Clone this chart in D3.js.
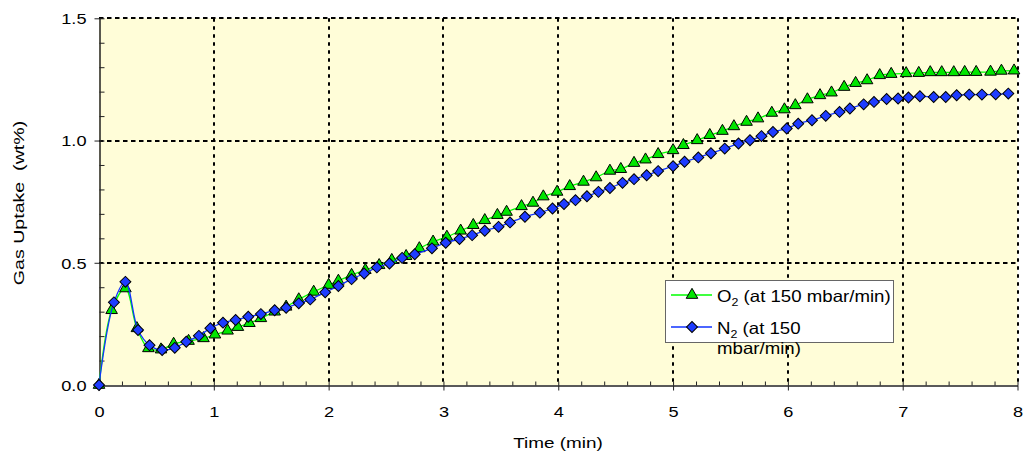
<!DOCTYPE html>
<html>
<head>
<meta charset="utf-8">
<script src="https://cdn.jsdelivr.net/npm/d3@7"></script>
<style>
body { margin: 0; background: #fff; }
text { font-family: "Liberation Sans", Arial, sans-serif; fill: #000; }
</style>
</head>
<body>
<script>
//O2 series (green triangles), time in min and uptake in wt%
var o2Time = [0, 0.11, 0.23, 0.33, 0.43, 0.54, 0.65, 0.78, 0.91, 1.01, 1.12, 1.21, 1.31, 1.41, 1.53, 1.63, 1.74, 1.87, 2.00, 2.085,
    2.20, 2.32, 2.44, 2.55, 2.675, 2.79, 2.91, 3.03, 3.15, 3.26, 3.36, 3.47, 3.55, 3.68, 3.78, 3.87, 3.99, 4.10, 4.22, 4.33,
    4.45, 4.545, 4.66, 4.76, 4.87, 5.00, 5.09, 5.21, 5.32, 5.43, 5.53, 5.64, 5.74, 5.86, 5.97, 6.065, 6.17, 6.28, 6.38, 6.49,
    6.59, 6.69, 6.80, 6.90, 7.03, 7.14, 7.24, 7.34, 7.445, 7.54, 7.64, 7.765, 7.86, 7.97];
var o2Uptake = [0, 0.306, 0.395, 0.232, 0.15, 0.145, 0.168, 0.18, 0.191, 0.206, 0.222, 0.237, 0.253, 0.273, 0.30, 0.32, 0.35, 0.381, 0.409, 0.426,
    0.45, 0.47, 0.49, 0.511, 0.527, 0.559, 0.586, 0.606, 0.631, 0.654, 0.674, 0.695, 0.708, 0.731, 0.745, 0.771, 0.79, 0.813, 0.831, 0.849,
    0.876, 0.883, 0.908, 0.922, 0.944, 0.96, 0.981, 1.001, 1.022, 1.039, 1.058, 1.076, 1.09, 1.113, 1.127, 1.144, 1.168, 1.185, 1.196, 1.219,
    1.235, 1.246, 1.267, 1.272, 1.275, 1.276, 1.279, 1.279, 1.279, 1.28, 1.28, 1.281, 1.285, 1.286];

//N2 series (blue diamonds)
var n2Time = [0, 0.13, 0.23, 0.34, 0.44, 0.55, 0.66, 0.76, 0.87, 0.97, 1.08, 1.19, 1.30, 1.41, 1.53, 1.63, 1.74, 1.84, 1.97, 2.085,
    2.20, 2.31, 2.42, 2.53, 2.64, 2.75, 2.90, 3.02, 3.14, 3.25, 3.36, 3.48, 3.58, 3.71, 3.84, 3.95, 4.05, 4.15, 4.25, 4.35,
    4.45, 4.56, 4.66, 4.77, 4.87, 5.00, 5.10, 5.22, 5.33, 5.45, 5.57, 5.67, 5.77, 5.87, 5.99, 6.09, 6.21, 6.33, 6.45, 6.54,
    6.66, 6.75, 6.86, 6.96, 7.05, 7.15, 7.27, 7.375, 7.47, 7.58, 7.69, 7.81, 7.92];
var n2Uptake = [0, 0.338, 0.422, 0.225, 0.163, 0.143, 0.152, 0.177, 0.201, 0.232, 0.255, 0.266, 0.279, 0.29, 0.306, 0.316, 0.334, 0.35, 0.379, 0.405,
    0.433, 0.456, 0.481, 0.497, 0.52, 0.535, 0.559, 0.582, 0.597, 0.613, 0.631, 0.647, 0.665, 0.688, 0.705, 0.722, 0.740, 0.756, 0.772, 0.79,
    0.806, 0.827, 0.842, 0.858, 0.875, 0.895, 0.913, 0.931, 0.948, 0.967, 0.988, 1.001, 1.018, 1.035, 1.049, 1.069, 1.083, 1.101, 1.117, 1.131,
    1.148, 1.158, 1.17, 1.172, 1.176, 1.181, 1.178, 1.178, 1.185, 1.188, 1.188, 1.189, 1.192];

var xTicks = [0, 1, 2, 3, 4, 5, 6, 7, 8];
var yTicks = [0, 0.5, 1.0, 1.5];
var legendLabels = [["O", "2", " (at 150 mbar/min)"], ["N", "2", " (at 150", "mbar/min)"]];

var width = 1024,
    height = 462;

var svg = d3.select("body")
    .append("svg")
    .attr("width", width)
    .attr("height", height);

var x = d3.scaleLinear().domain([0, 8]).range([99, 1017.5]);
var y = d3.scaleLinear().domain([0, 1.5]).range([385, 18.3]);

//plot background
svg.append("rect")
    .attr("x", x(0))
    .attr("y", y(1.5))
    .attr("width", x(8) - x(0))
    .attr("height", y(0) - y(1.5))
    .attr("fill", "#FFFDD8");

//dashed grid
svg.selectAll(".vgrid")
    .data(xTicks.slice(1))
    .enter()
    .append("line")
    .attr("class", "vgrid")
    .attr("x1", function(d){ return Math.round(x(d)); })
    .attr("x2", function(d){ return Math.round(x(d)); })
    .attr("y1", y(1.5))
    .attr("y2", y(0))
    .attr("stroke", "#000")
    .attr("stroke-width", 2)
    .attr("stroke-dasharray", "3.5,4.5");

svg.selectAll(".hgrid")
    .data(yTicks.slice(1))
    .enter()
    .append("line")
    .attr("class", "hgrid")
    .attr("x1", x(0))
    .attr("x2", x(8))
    .attr("y1", function(d){ return Math.round(y(d)); })
    .attr("y2", function(d){ return Math.round(y(d)); })
    .attr("stroke", "#000")
    .attr("stroke-width", 2)
    .attr("stroke-dasharray", "4.5,3.5");

//axes
var xAxis = svg.append("g")
    .attr("transform", "translate(0,385.5)")
    .call(d3.axisBottom(x).tickValues(xTicks).tickSize(5).tickSizeOuter(0).tickFormat(d3.format("d")));
svg.append("g")
    .attr("transform", "translate(0,385.5)")
    .call(d3.axisBottom(x).tickValues(d3.range(0, 8.01, 0.2)).tickSize(-4).tickSizeOuter(0).tickFormat(""));

var yAxis = svg.append("g")
    .attr("transform", "translate(99.5,0)")
    .call(d3.axisLeft(y).tickValues(yTicks).tickSize(5).tickSizeOuter(0).tickFormat(d3.format(".1f")));
svg.append("g")
    .attr("transform", "translate(99.5,0)")
    .call(d3.axisLeft(y).tickValues(d3.range(0, 1.51, 0.1)).tickSize(-5).tickSizeOuter(0).tickFormat(""));

svg.selectAll(".domain, .tick line").attr("stroke", "#222");

xAxis.selectAll("text")
    .attr("y", null).attr("dy", null)
    .attr("transform", "translate(0,31) scale(1.3,1)")
    .style("font-size", "14px");
yAxis.selectAll("text")
    .attr("x", null).attr("dy", null)
    .attr("transform", "translate(-13,5.3) scale(1.3,1)")
    .style("font-size", "14px");

//axis titles
svg.append("text")
    .attr("transform", "translate(558,448) scale(1.35,1)")
    .attr("text-anchor", "middle")
    .style("font-size", "14px")
    .text("Time (min)");

svg.append("text")
    .attr("transform", "translate(24,203) rotate(-90) scale(1.4,1)")
    .attr("text-anchor", "middle")
    .style("font-size", "14px")
    .style("white-space", "pre")
    .text("Gas Uptake  (wt%)");

//series
var series = [
    {time: o2Time, value: o2Uptake, line: "#00FF00", fill: "#00E600", symbol: d3.symbolTriangle, size: 58, rot: 0},
    {time: n2Time, value: n2Uptake, line: "#1133FF", fill: "#1E3CFF", symbol: d3.symbolSquare, size: 60, rot: 45}
];

var line = d3.line()
    .x(function(d){ return x(d[0]); })
    .y(function(d){ return y(d[1]); })
    .curve(d3.curveCatmullRom.alpha(0.5));

series.forEach(function(s){
    var pts = s.time.map(function(t, i){ return [t, s.value[i]]; });
    svg.append("path")
        .datum(pts)
        .attr("d", line)
        .attr("fill", "none")
        .attr("stroke", s.line)
        .attr("stroke-width", 1.3);
    svg.append("g").selectAll("path")
        .data(pts)
        .enter()
        .append("path")
        .attr("d", d3.symbol().type(s.symbol).size(s.size))
        .attr("transform", function(d){ return "translate(" + x(d[0]) + "," + y(d[1]) + ") rotate(" + s.rot + ")"; })
        .attr("fill", s.fill)
        .attr("stroke", "#000")
        .attr("stroke-width", 1);
});

//legend
var legend = svg.append("g");
legend.append("rect")
    .attr("x", 665.5)
    .attr("y", 280.5)
    .attr("width", 228)
    .attr("height", 62)
    .attr("fill", "#fff")
    .attr("stroke", "#666");

var rowY = [295, 327];
legendLabels.forEach(function(lab, i){
    var s = series[i];
    legend.append("line")
        .attr("x1", 671).attr("x2", 712)
        .attr("y1", rowY[i]).attr("y2", rowY[i])
        .attr("stroke", s.line)
        .attr("stroke-width", 1.3);
    legend.append("path")
        .attr("d", d3.symbol().type(s.symbol).size(s.size))
        .attr("transform", "translate(692," + rowY[i] + ") rotate(" + s.rot + ")")
        .attr("fill", s.fill)
        .attr("stroke", "#000");
    var t = legend.append("text")
        .attr("transform", "translate(717," + (rowY[i] + 6.5) + ") scale(1.13,1)")
        .style("font-size", "16.5px");
    t.append("tspan").text(lab[0]);
    t.append("tspan").attr("dy", 4).style("font-size", "11px").text(lab[1]);
    t.append("tspan").attr("dy", -4).style("white-space", "pre").text(lab[2]);
    if (lab[3]) {
        legend.append("text")
            .attr("transform", "translate(717," + (rowY[i] + 27) + ") scale(1.13,1)")
            .style("font-size", "16.5px")
            .text(lab[3]);
    }
});
</script>
</body>
</html>
